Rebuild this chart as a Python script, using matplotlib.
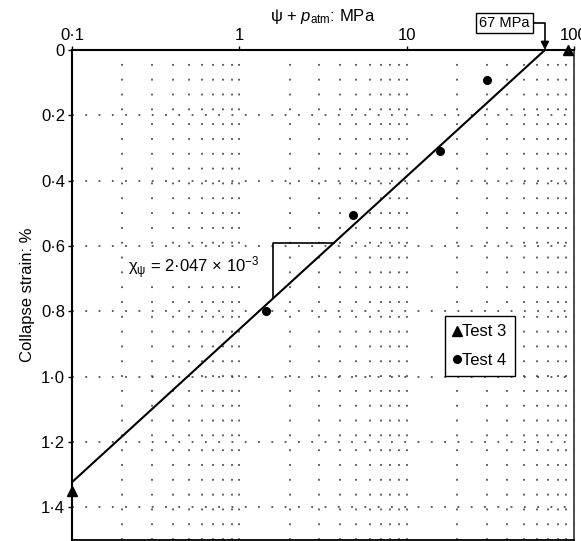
import matplotlib
matplotlib.use("Agg")
import matplotlib.pyplot as plt
from matplotlib.ticker import FixedLocator, FuncFormatter, NullFormatter

plt.rcParams['font.family'] = ['Liberation Sans', 'DejaVu Sans']
plt.rcParams['mathtext.fontset'] = 'custom'
plt.rcParams['mathtext.rm'] = 'Liberation Sans'
plt.rcParams['mathtext.it'] = 'Liberation Sans:italic'

# данные
test3_x = [0.1, 92]
test3_y = [1.35, 0.0]
test4_x = [1.44, 4.8, 15.8, 30]
test4_y = [0.80, 0.505, 0.31, 0.092]
fit_x = [0.1, 67]
fit_y = [1.323, 0.0]
slope_x = [1.59, 1.59, 3.68]
slope_y = [0.76, 0.59, 0.59]
y_ticks = [0, 0.2, 0.4, 0.6, 0.8, 1.0, 1.2, 1.4]
x_ticks = [0.1, 1, 10, 100]


def x_fmt(v, pos):
    if v >= 1:
        return str(int(round(v)))
    return f"{v:.1f}".replace(".", "·")


def y_fmt(v, pos):
    if v == 0:
        return "0"
    return f"{v:.1f}".replace(".", "·")


fig = plt.figure(figsize=(5.81, 5.41), dpi=100)
ax = fig.add_axes([72 / 581, 1 / 541, 502 / 581, 490 / 541])

ax.set_xscale('log')
ax.set_xlim(0.1, 100)
ax.set_ylim(1.5, 0)

ax.xaxis.tick_top()
ax.xaxis.set_label_position('top')
ax.xaxis.set_major_locator(FixedLocator(x_ticks))
ax.xaxis.set_major_formatter(FuncFormatter(x_fmt))
ax.xaxis.set_minor_formatter(NullFormatter())
ax.set_yticks(y_ticks)
ax.yaxis.set_major_formatter(FuncFormatter(y_fmt))

ax.tick_params(axis='both', which='major', direction='out', length=3,
               width=1, labelsize=12, pad=2)
ax.tick_params(axis='x', which='minor', length=0)

ax.grid(True, which='both', axis='x', linestyle=(0, (1.2, 8.5)), color='0.2', lw=1.1)
ax.grid(True, which='major', axis='y', linestyle=(0, (1.2, 7.5)), color='0.2', lw=1.1)

for s in ['left', 'top']:
    ax.spines[s].set_linewidth(1.5)
ax.spines['right'].set_linewidth(1.3)
ax.spines['right'].set_color('0.25')
ax.spines['bottom'].set_linewidth(1.3)

ax.plot(fit_x, fit_y, color='k', lw=1.5, zorder=3)
ax.plot(slope_x, slope_y, color='k', lw=1.2, zorder=3)

ax.plot(test3_x, test3_y, linestyle='none', marker='^', color='k',
        ms=7.5, clip_on=False, zorder=4, label='Test 3')
ax.plot(test4_x, test4_y, linestyle='none', marker='o', color='k',
        ms=5.5, clip_on=False, zorder=4, label='Test 4')

ax.text(0.216, 0.668, "χ$_{\\mathrm{ψ}}$ = 2·047 × 10$^{−3}$", ha='left',
        va='center', fontsize=12, zorder=5,
        bbox=dict(boxstyle='square,pad=0.1', fc='white', ec='none'))

ax.annotate("67 MPa", xy=(67, 0), xytext=(-29, 19.5), textcoords='offset points',
            ha='center', va='center', fontsize=10.5, annotation_clip=False,
            bbox=dict(boxstyle='square,pad=0.22', fc='white', ec='k', lw=1),
            arrowprops=dict(arrowstyle='-|>', color='k', lw=1.2,
                            connectionstyle='angle,angleA=0,angleB=90,rad=0',
                            mutation_scale=12, shrinkA=0, shrinkB=0))

ax.set_xlabel("ψ + $\\it{p}_{\\mathrm{atm}}$: MPa", fontsize=12, labelpad=5)
ax.set_ylabel("Collapse strain: %", fontsize=12, labelpad=4)

leg = ax.legend(loc='upper left', bbox_to_anchor=(0.743, 0.457), borderaxespad=0,
                handlelength=0.5, handletextpad=0.05, fontsize=12,
                frameon=True, fancybox=False, edgecolor='k', framealpha=1,
                labelspacing=0.8, borderpad=0.5)
leg.get_frame().set_linewidth(1)

fig.savefig('out.png', dpi=100)
